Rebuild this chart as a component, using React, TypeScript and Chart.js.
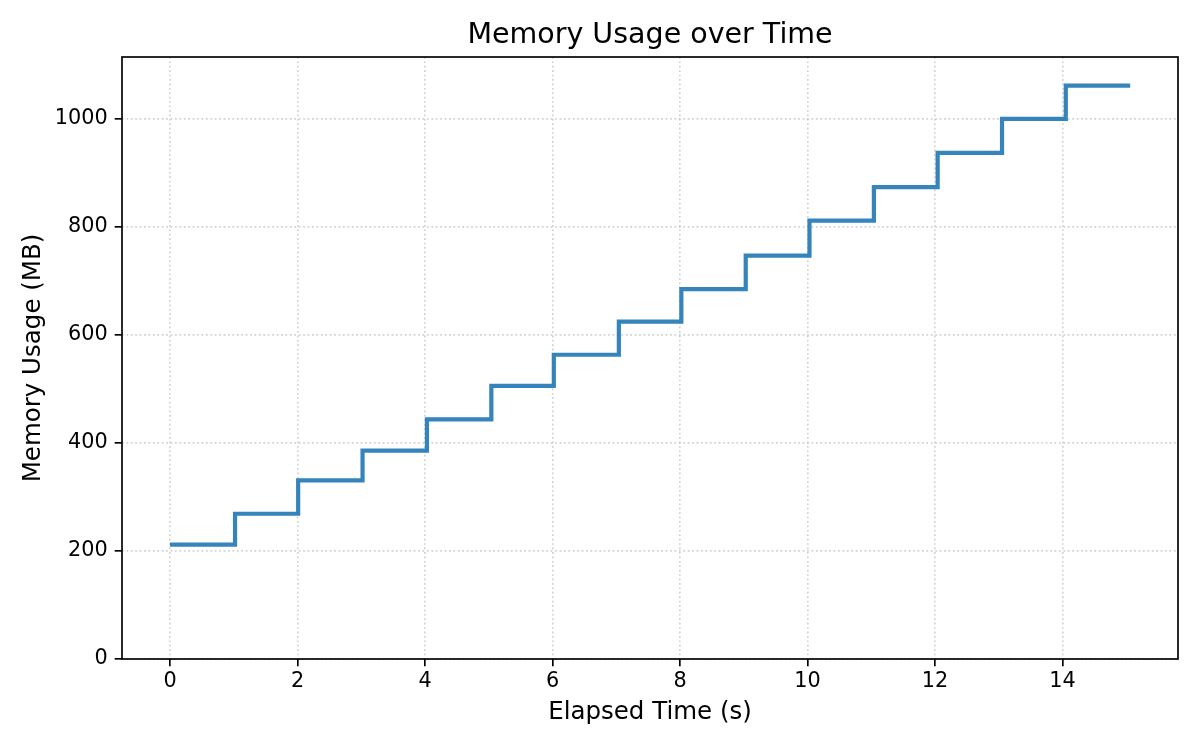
import React, { useEffect, useRef } from "react";
import { Chart, registerables } from "chart.js";

Chart.register(...registerables);

// ---- data ----
const elapsedSeconds = [0, 1.02, 2.01, 3.02, 4.03, 5.04, 6.02, 7.04, 8.02, 9.03, 10.03, 11.04, 12.04, 13.05, 14.05, 15.06];
const memoryMB = [211.7, 269, 331, 386, 444, 506, 563.5, 625, 685, 747, 812, 874, 937.5, 1000.5, 1062, 1062];
const xTickValues = [0, 2, 4, 6, 8, 10, 12, 14];
const yTickValues = [0, 200, 400, 600, 800, 1000];
const xRange = [-0.753, 15.81];
const yRange = [0, 1115];
const chartTitle = "Memory Usage over Time";
const xAxisLabel = "Elapsed Time (s)";
const yAxisLabel = "Memory Usage (MB)";

const FONT = "'DejaVu Sans', 'Liberation Sans', sans-serif";
const LINE_COLOR = "rgba(31,119,180,0.9)";
const GRID_COLOR = "rgba(176,176,176,0.6)";
const SPINE = 1.67;

const framePlugin = {
  id: "frame",
  afterDatasetsDraw(chart: any) {
    const { ctx, chartArea } = chart;
    const { left, top, right, bottom } = chartArea;
    ctx.save();
    ctx.strokeStyle = "#000";
    ctx.lineWidth = SPINE;
    ctx.strokeRect(left, top, right - left, bottom - top);
    ctx.restore();
  },
};

export default function App() {
  const ref = useRef<HTMLCanvasElement>(null);

  useEffect(() => {
    document.body.style.margin = "0";
    const canvas = ref.current;
    if (!canvas) return;
    const chart = new Chart(canvas, {
      type: "line",
      data: {
        datasets: [
          {
            data: elapsedSeconds.map((x, i) => ({ x, y: memoryMB[i] })),
            stepped: "before",
            borderColor: LINE_COLOR,
            borderWidth: 4.2,
            pointRadius: 0,
            fill: false,
            borderCapStyle: "butt",
            borderJoinStyle: "miter",
          },
        ],
      },
      options: {
        animation: false,
        responsive: false,
        maintainAspectRatio: false,
        layout: { padding: { left: 0, right: 22, top: 0, bottom: 0 } },
        plugins: {
          legend: { display: false },
          tooltip: { enabled: false },
          title: {
            display: true,
            fullSize: false,
            text: chartTitle,
            color: "#000",
            font: { family: FONT, size: 28.5, weight: "normal" },
            padding: { top: 18.3, bottom: 4.5 },
          },
        },
        scales: {
          x: {
            type: "linear",
            min: xRange[0],
            max: xRange[1],
            afterBuildTicks: (s: any) => {
              s.ticks = xTickValues.map((v) => ({ value: v }));
            },
            afterFit: (s: any) => {
              s.height = 91;
            },
            ticks: {
              color: "#000",
              font: { family: FONT, size: 20.8 },
              padding: 3,
              maxRotation: 0,
              autoSkip: false,
              callback: (v: any) => String(v),
            },
            grid: {
              color: GRID_COLOR,
              lineWidth: 1.67,
              tickColor: "#000",
              tickLength: 7.3,
              tickWidth: SPINE,
            },
            border: { display: false, dash: [1.67, 2.75] },
            title: {
              display: true,
              text: xAxisLabel,
              color: "#000",
              font: { family: FONT, size: 24.5 },
              padding: { top: 0, bottom: 23 },
            },
          },
          y: {
            type: "linear",
            min: yRange[0],
            max: yRange[1],
            afterBuildTicks: (s: any) => {
              s.ticks = yTickValues.map((v) => ({ value: v }));
            },
            afterFit: (s: any) => {
              s.width = 122;
            },
            ticks: {
              color: "#000",
              font: { family: FONT, size: 20.8 },
              padding: 7,
              autoSkip: false,
              callback: (v: any) => String(v),
            },
            grid: {
              color: GRID_COLOR,
              lineWidth: 1.67,
              tickColor: "#000",
              tickLength: 7.3,
              tickWidth: SPINE,
            },
            border: { display: false, dash: [1.67, 2.75] },
            title: {
              display: true,
              text: yAxisLabel,
              color: "#000",
              font: { family: FONT, size: 24.5 },
              padding: { top: 19.3, bottom: 0 },
            },
          },
        },
      },
      plugins: [framePlugin],
    } as any);
    return () => chart.destroy();
  }, []);

  return (
    <div style={{ width: 1200, height: 750, position: "relative" }}>
      <canvas ref={ref} width={1200} height={750} style={{ width: 1200, height: 750, display: "block" }} />
    </div>
  );
}
